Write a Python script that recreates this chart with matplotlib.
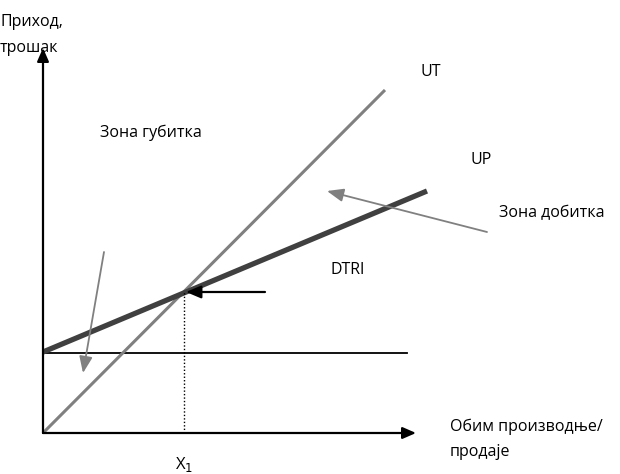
import matplotlib.pyplot as plt

# Break-even chart values (data units, origin at lower left)
fixed_cost = 80
ut_line_x = [0, 342]
ut_line_y = [0, 343]
up_line_x = [0, 384]
up_line_y = [81, 242]
fixed_line_x = [0, 364]
break_even_x = 141
break_even_y = 141

plt.rcParams['font.family'] = ['Open Sans', 'DejaVu Sans']

fig = plt.figure(figsize=(6.2, 4.74), dpi=100)
ax = fig.add_axes([0, 0, 1, 1])
ax.set_xlim(-43, 577)
ax.set_ylim(-41, 433)
ax.axis('off')

fs = 11.5
# y-axis label first so the arrow is drawn over it
ax.text(-43, 381, 'Приход,\nтрошак', fontsize=fs, va='baseline', ha='left', linespacing=1.8)

# axes with arrows
ax.annotate('', xy=(0, 385), xytext=(0, 0),
            arrowprops=dict(arrowstyle='-|>,head_length=0.8,head_width=0.35', color='black', lw=1.6, shrinkA=0, shrinkB=0))
ax.annotate('', xy=(373, 0), xytext=(0, 0),
            arrowprops=dict(arrowstyle='-|>,head_length=0.8,head_width=0.35', color='black', lw=1.6, shrinkA=0, shrinkB=0))

# fixed cost line
ax.plot(fixed_line_x, [fixed_cost, fixed_cost], color='black', lw=1.3)

# UT and UP lines
ax.plot(ut_line_x, ut_line_y, color='#808080', lw=2.2, solid_capstyle='butt')
ax.plot(up_line_x, up_line_y, color='#404040', lw=3.8, solid_capstyle='butt')

# dotted drop to X1
ax.plot([break_even_x, break_even_x], [0, break_even_y], color='black', lw=1.0, ls=(0, (1, 1.5)))

# arrow to break-even point
ax.annotate('', xy=(break_even_x + 2, break_even_y), xytext=(222, break_even_y),
            arrowprops=dict(arrowstyle='-|>,head_length=0.9,head_width=0.38', color='black', lw=1.6, shrinkA=0, shrinkB=0))

# gray arrows
ax.annotate('', xy=(284, 242), xytext=(444, 201),
            arrowprops=dict(arrowstyle='-|>,head_length=1.0,head_width=0.4', color='#808080', lw=1.3, shrinkA=0, shrinkB=0))
ax.annotate('', xy=(40, 60), xytext=(61, 181),
            arrowprops=dict(arrowstyle='-|>,head_length=1.0,head_width=0.4', color='#808080', lw=1.3, shrinkA=0, shrinkB=0))

ax.text(377, 361, 'UT', fontsize=fs, ha='left', va='center')
ax.text(57, 300, 'Зона губитка', fontsize=fs, ha='left', va='center')
ax.text(427, 273, 'UP', fontsize=fs, ha='left', va='center')
ax.text(456, 220, 'Зона добитка', fontsize=fs, ha='left', va='center')
ax.text(287, 163, 'DTRI', fontsize=fs, ha='left', va='center')
ax.text(407, -23, 'Обим производње/\nпродаје', fontsize=fs, ha='left', va='baseline', linespacing=1.73)
ax.text(132, -31, 'X$_1$', fontsize=fs + 0.5, ha='left', va='center')

plt.savefig('out.png', dpi=100)
